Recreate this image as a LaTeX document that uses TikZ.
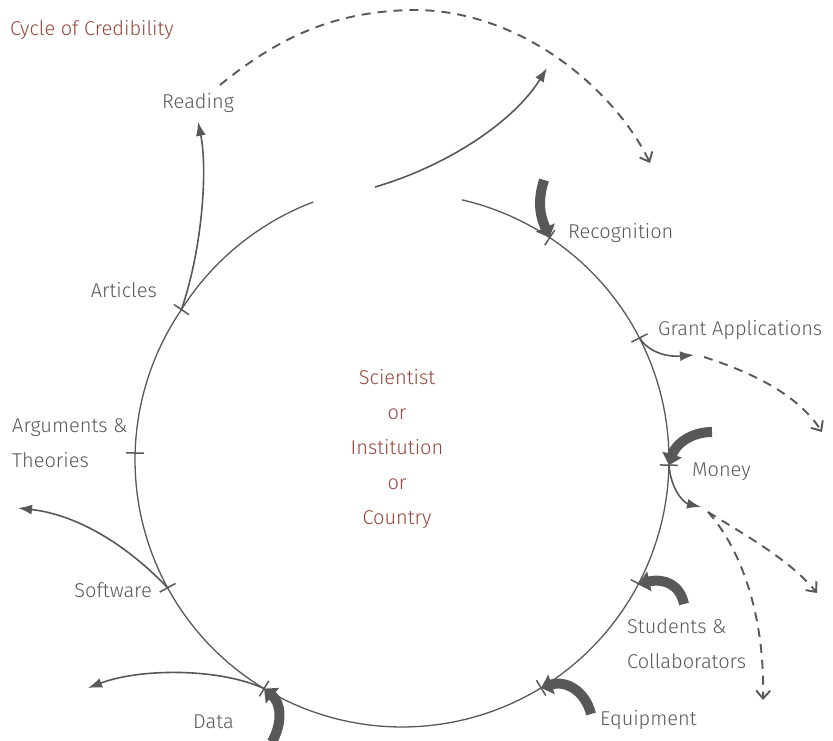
\documentclass[tikz,border=0pt]{standalone}
\usepackage{fontspec}
\setmainfont{Fira Sans Light}
\usetikzlibrary{arrows.meta,positioning}
\definecolor{ink}{RGB}{88,88,88}
\definecolor{rust}{RGB}{150,70,58}
\tikzset{
  ring/.style={ink, line width=1.3pt},
  tick/.style={ink, line width=1.5pt},
  feed/.style={ink, line width=10pt, -{Triangle[length=11pt,width=20pt]}},
  leak/.style={ink, line width=1.6pt, -{Latex[length=14pt,width=10pt]}},
  lost/.style={ink, line width=1.9pt, dash pattern=on 9pt off 7pt, -{Straight Barb[length=8pt,width=14pt]}},
  lbl/.style={ink, font=\fontsize{20}{35}\selectfont, inner sep=0pt},
  who/.style={rust, font=\fontsize{20}{35}\selectfont, inner sep=0pt},
}
\begin{document}
\begin{tikzpicture}[x=1pt,y=-1pt]

  \useasboundingbox (0,0) rectangle (833,740);

  \draw[ring] plot[domain=-77:214.3, samples=140] ({402+267*cos(\x)},{460+267*sin(\x)});
  \draw[ring] plot[domain=214.3:251, samples=30]
    ({402+(267+(\x-214.3)*0.16)*cos(\x)},{460+(267+(\x-214.3)*0.16)*sin(\x)});

  \foreach \a/\n in {-56.4/recog, -27.2/grant, 1.1/money, 27.6/stud, 58.6/equip,
                     121.1/data, 151.4/soft, 181.5/argu, 214.3/artic}
  {
    \coordinate (\n) at ({402+267*cos(\a)},{460+267*sin(\a)});
    \draw[tick] ({402+258*cos(\a)},{460+258*sin(\a)}) -- ({402+276*cos(\a)},{460+276*sin(\a)});
  }

  \node[who, anchor=west] (title) at (10,30) {Cycle of Credibility};
  \node[who, align=center] (who) at (397,449) {Scientist\\or\\Institution\\or\\Country};

  \node[lbl] (read) at (198,103) {Reading};
  \node[lbl, anchor=west] (recogl) at (568,233) {Recognition};
  \node[lbl, anchor=west] (grantl) at (658,330) {Grant Applications};
  \node[lbl, anchor=west] (moneyl) at (692,472) {Money};
  \node[lbl, anchor=west, align=left] (studl) at (627,644) {Students \&\\Collaborators};
  \node[lbl, anchor=west] (equipl) at (600,720) {Equipment};
  \node[lbl, anchor=west] (datal) at (193,722) {Data};
  \node[lbl, anchor=east] (softl) at (152,590) {Software};
  \node[lbl, anchor=west, align=left] (argul) at (12,443) {Arguments \&\\Theories};
  \node[lbl, anchor=east] (articl) at (157,290) {Articles};

  \coordinate (cred) at (220,85);
  \coordinate (gain) at (650,163);
  \coordinate (out) at (375,187);
  \coordinate (outend) at (547,68);
  \coordinate (grantout) at (694,355);
  \coordinate (grantgo) at (822,432);
  \coordinate (moneyout) at (701,507);
  \coordinate (moneysplit) at (708,512);
  \coordinate (moneygo) at (817,593);
  \coordinate (moneydown) at (763,700);
  \coordinate (dataout) at (88,688);
  \coordinate (softout) at (18,508);

  \draw[leak] (artic) .. controls (202,250) and (208,170) .. ([yshift=-9pt]read.south);
  \draw[leak] (out) .. controls (450,165) and (515,120) .. (outend);
  \draw[lost] (cred) .. controls (285,32) and (340,12) .. (410,10)
    .. controls (520,8) and (615,90) .. (gain);

  \draw[leak] (grant) .. controls (650,354) and (670,357) .. (grantout);
  \draw[lost] ([xshift=10pt,yshift=-2pt]grantout) .. controls (760,375) and (800,398) .. (grantgo);
  \draw[leak] (money) .. controls (671,490) and (684,503) .. (moneyout);
  \draw[lost] (moneysplit) .. controls (745,535) and (790,560) .. (moneygo);
  \draw[lost] (moneysplit) .. controls (738,545) and (765,610) .. (moneydown);
  \draw[leak] (data) .. controls (220,668) and (140,668) .. (dataout);
  \draw[leak] (soft) .. controls (130,548) and (80,515) .. (softout);

  \draw[feed] (544,180) .. controls (536,205) and (542,220) .. (recog);
  \draw[feed] (712,432) .. controls (690,432) and (675,445) .. (money);
  \draw[feed] (684,604) .. controls (680,585) and (665,578) .. (stud);
  \draw[feed] (591,714) .. controls (585,690) and (565,680) .. (equip);
  \draw[feed] (272,742) .. controls (283,722) and (281,703) .. (data);

\end{tikzpicture}
\end{document}
